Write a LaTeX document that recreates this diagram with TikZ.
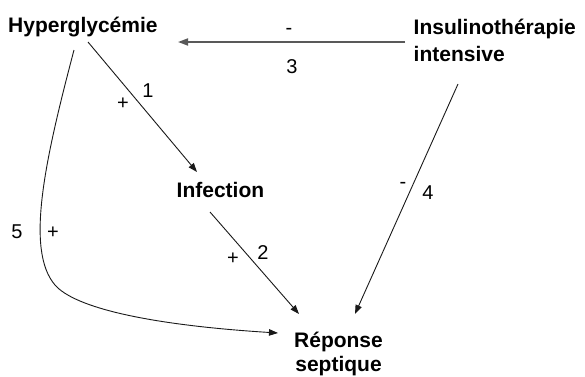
\documentclass[tikz,border=0pt]{standalone}
\usepackage{fontspec}
\setmainfont{Liberation Sans}
\usetikzlibrary{arrows.meta}
\tikzset{
  concept/.style={inner sep=0pt, font=\fontsize{21}{27}\selectfont\bfseries},
  lbl/.style={inner sep=0pt, anchor=base, font=\fontsize{20}{24}\selectfont},
  link/.style={line width=0.9pt, black!90, -{Triangle[length=9pt,width=6.5pt]}},
  strong/.style={line width=1.7pt, black!65, -{Triangle[length=10pt,width=7pt]}}
}
\begin{document}
\begin{tikzpicture}[x=1pt,y=-1pt]
\useasboundingbox (0,0) rectangle (585,376);
\node[concept, anchor=base west] (hyper) at (8,32) {Hyperglycémie};
\node[concept, anchor=base west, align=left] (ins) at (413.5,61) {Insulinothérapie\\intensive};
\node[concept, anchor=base west] (inf) at (176.5,197) {Infection};
\node[concept, anchor=base, align=center, font=\fontsize{21}{24}\selectfont\bfseries] (rep) at (338.5,371) {Réponse\\septique};

% 3
\draw[strong] ([shift={(-8.5,-19)}]ins.base west) -- ([shift={(170,10)}]hyper.base west);
% 1
\draw[link] ([shift={(80,10)}]hyper.base west) -- ([shift={(20.5,-25)}]inf.base west);
% 2
\draw[link] ([shift={(33.5,15)}]inf.base west) -- ([shift={(-39.5,-57)}]rep.base);
% 4
\draw[link] ([shift={(44.5,23)}]ins.base west) -- ([shift={(16.5,-57)}]rep.base);
% 5
\coordinate (bend) at (55,285);
\draw[link] ([shift={(66,18)}]hyper.base west) .. controls (45,160) and (25,250) .. (bend)
  .. controls (75,308) and (150,325) .. ([shift={(-60.5,-38)}]rep.base);

\node[lbl] (m3) at (289,34.5) {-};
\node[lbl] (n3) at (292,73) {3};
\node[lbl] (p1) at (123,109) {+};
\node[lbl] (n1) at (148,97) {1};
\node[lbl] (p2) at (233,264) {+};
\node[lbl] (n2) at (263,259) {2};
\node[lbl] (m4) at (403,188.5) {-};
\node[lbl] (n4) at (428,199) {4};
\node[lbl] (n5) at (17,238) {5};
\node[lbl] (p5) at (53,238) {+};
\end{tikzpicture}
\end{document}
